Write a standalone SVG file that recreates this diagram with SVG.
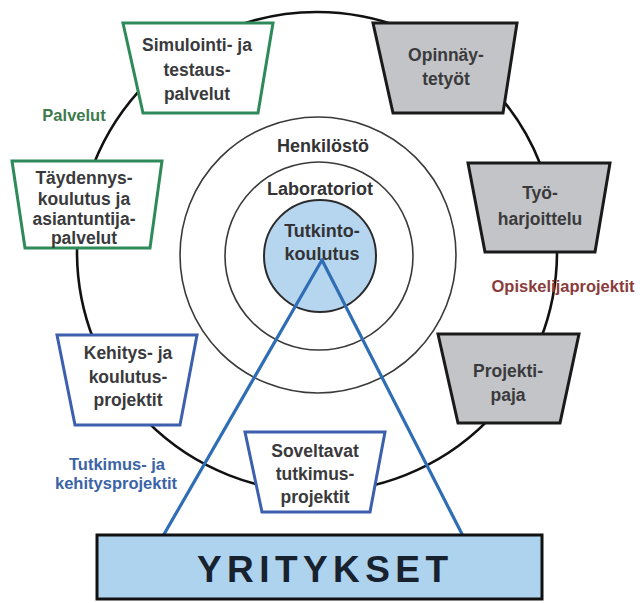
<svg xmlns="http://www.w3.org/2000/svg" width="642" height="603" viewBox="0 0 642 603">
  <style>
    text { font-family: "Liberation Sans", Arial, sans-serif; font-weight: bold; text-anchor: middle; }
    .box-text { font-size: 17.5px; fill: #3a3a3c; }
    .core-text { font-size: 18px; fill: #333335; }
    .ring { fill: none; stroke: #3a3a3a; stroke-width: 1.6; }
    .outer { fill: none; stroke: #111; stroke-width: 2.6; }
    .link { stroke: #2f6db5; stroke-width: 3.2; fill: none; stroke-linecap: round; }
    .green { fill: #fff; stroke: #2f8a5a; stroke-width: 3; stroke-linejoin: miter; }
    .blue { fill: #fff; stroke: #3c5fae; stroke-width: 3; }
    .grey { fill: #c2c4c7; stroke: #1a1a1a; stroke-width: 3; }
    .lbl { font-size: 16.5px; }
  </style>

  <rect width="642" height="603" fill="#fff"/>

  <!-- outer ring linking the service and project boxes -->
  <g id="connectors">
    <circle class="outer" cx="317" cy="252" r="240"/>
  </g>

  <!-- core: staff, laboratories, degree education -->
  <g id="core">
    <circle class="ring" cx="318" cy="255" r="138"/>
    <circle class="ring" cx="319" cy="256" r="94"/>
    <circle cx="320" cy="256" r="56" fill="#b6d6f0" stroke="#2b2b2b" stroke-width="2"/>
  </g>

  <!-- links from companies to the core -->
  <g id="company-links">
    <line class="link" x1="322" y1="260" x2="163" y2="536"/>
    <line class="link" x1="322" y1="260" x2="463" y2="536"/>
  </g>

  <g id="core-labels">
    <text class="core-text" x="323" y="152">Henkilöstö</text>
    <text class="core-text" x="320" y="195">Laboratoriot</text>
    <text class="core-text" x="322" y="237">Tutkinto-</text>
    <text class="core-text" x="322" y="260">koulutus</text>
  </g>

  <g id="simulointi">
    <polygon class="green" points="123,23 273,23 258,113 143,113"/>
    <text class="box-text" x="197" y="51">Simulointi- ja</text>
    <text class="box-text" x="197" y="76">testaus-</text>
    <text class="box-text" x="197" y="100">palvelut</text>
  </g>

  <g id="taydennys">
    <polygon class="green" points="12,161 162,161 150,248 25,248"/>
    <text class="box-text" x="84" y="184">Täydennys-</text>
    <text class="box-text" x="84" y="205">koulutus ja</text>
    <text class="box-text" x="84" y="225">asiantuntija-</text>
    <text class="box-text" x="84" y="244">palvelut</text>
  </g>

  <g id="palvelut-label">
    <text class="lbl" x="74" y="121" fill="#3d7a4c">Palvelut</text>
  </g>

  <g id="opinnaytetyot">
    <polygon class="grey" points="373,23 517,23 503,113 393,113"/>
    <text class="box-text" x="446" y="61">Opinnäy-</text>
    <text class="box-text" x="446" y="85">tetyöt</text>
  </g>

  <g id="tyoharjoittelu">
    <polygon class="grey" points="468,163 610,163 595,252 485,252"/>
    <text class="box-text" x="540" y="199">Työ-</text>
    <text class="box-text" x="540" y="225">harjoittelu</text>
  </g>

  <g id="opiskelijaprojektit-label">
    <text class="lbl" x="563" y="292" fill="#8a3c3c" font-size="16">Opiskelijaprojektit</text>
  </g>

  <g id="projektipaja">
    <polygon class="grey" points="438,334 579,334 560,423 458,423"/>
    <text class="box-text" x="508" y="377">Projekti-</text>
    <text class="box-text" x="508" y="401">paja</text>
  </g>

  <g id="kehitys">
    <polygon class="blue" points="57,335 197,335 180,425 75,425"/>
    <text class="box-text" x="128" y="359">Kehitys- ja</text>
    <text class="box-text" x="128" y="383">koulutus-</text>
    <text class="box-text" x="128" y="406">projektit</text>
  </g>

  <g id="tutkimus-label">
    <text class="lbl" x="117" y="470" fill="#3b63a6">Tutkimus- ja</text>
    <text class="lbl" x="116" y="489" fill="#3b63a6">kehitysprojektit</text>
  </g>

  <g id="soveltavat">
    <polygon class="blue" points="245,432 385,432 370,512 262,512"/>
    <text class="box-text" x="315" y="457">Soveltavat</text>
    <text class="box-text" x="315" y="480">tutkimus-</text>
    <text class="box-text" x="315" y="503">projektit</text>
  </g>

  <g id="yritykset">
    <rect x="97" y="535" width="445" height="64" fill="#aed3ee" stroke="#111" stroke-width="3"/>
    <text x="197" y="582" font-size="37" fill="#17222e" style="text-anchor:start" textLength="251">YRITYKSET</text>
  </g>
</svg>
